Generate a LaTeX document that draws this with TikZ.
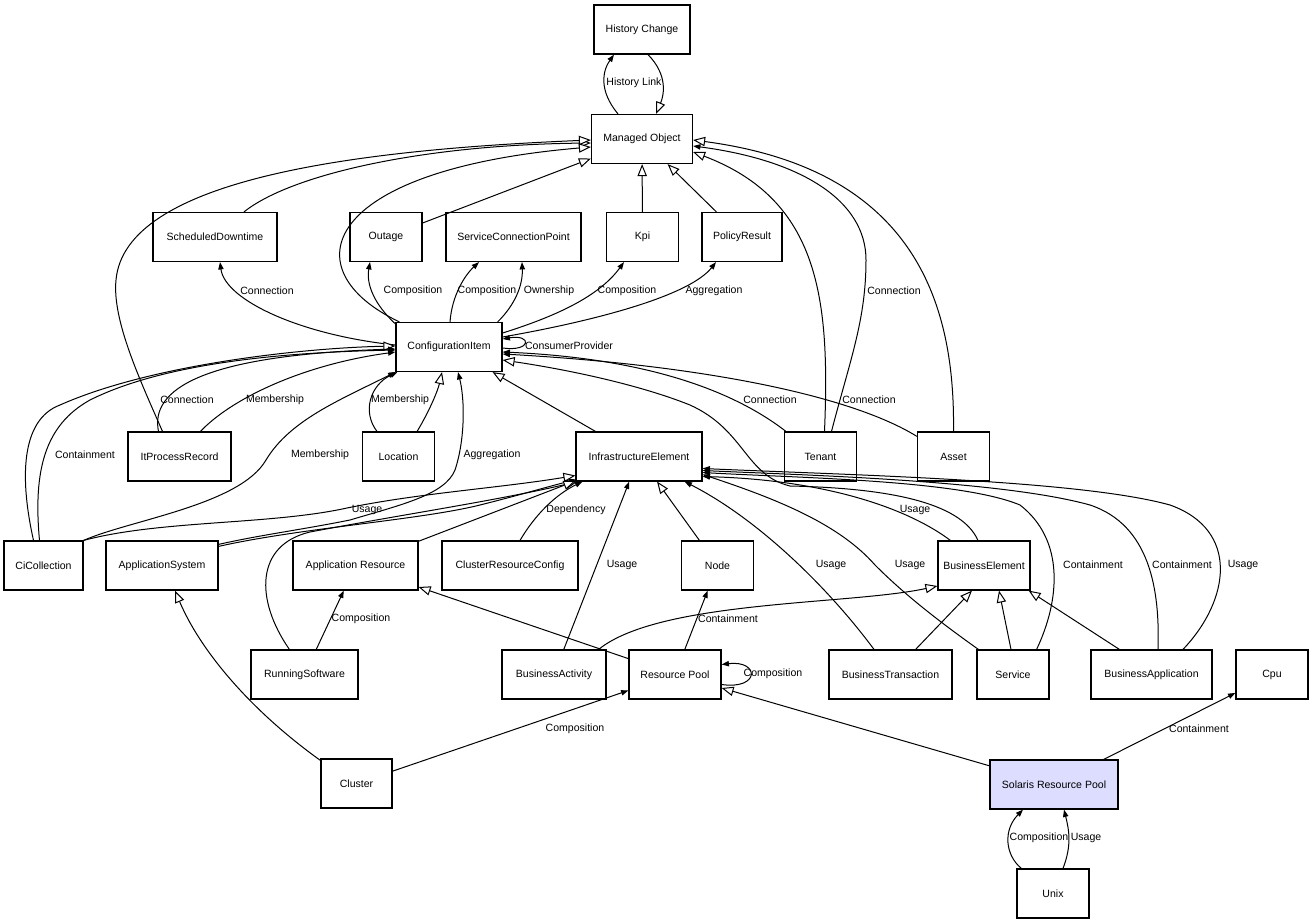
\documentclass[tikz,border=0pt]{standalone}
\usepackage{fontspec}
\setmainfont{Liberation Sans}
\usetikzlibrary{calc,arrows.meta}
\definecolor{poolblue}{RGB}{221,221,255}
\tikzset{
  cls/.style={draw, line width=0.9pt, minimum width=54pt, minimum height=36.75pt, inner sep=1pt, font=\fontsize{7.9}{9}\selectfont},
  lbl/.style={inner sep=1pt, font=\fontsize{7.9}{9}\selectfont},
  gen/.style={line width=0.75pt, -{Triangle[open,fill=white,length=9pt,width=7pt]}},
  assoc/.style={line width=0.75pt, -{Triangle[length=5.5pt,width=4pt]}}
}
\begin{document}
\begin{tikzpicture}[x=0.75pt,y=-0.75pt]
      \useasboundingbox (0,0) rectangle (1313,924);
      \node[cls, minimum width=72pt] (hc) at (642,29.5) {History Change};
      \node[cls, minimum width=75.75pt] (mo) at (642,139) {Managed Object};
      \node[cls, minimum width=93pt] (sd) at (215,237) {ScheduledDowntime};
      \node[cls] (outage) at (386,237) {Outage};
      \node[cls, minimum width=101.25pt] (scp) at (513.5,237) {ServiceConnectionPoint};
      \node[cls] (kpi) at (642.5,237) {Kpi};
      \node[cls, minimum width=60pt] (pr) at (742,237) {PolicyResult};
      \node[cls, minimum width=79.5pt] (ci) at (449,347) {ConfigurationItem};
      \node[cls, minimum width=77.25pt] (ipr) at (179.5,456.5) {ItProcessRecord};
      \node[cls] (loc) at (398.5,456.5) {Location};
      \node[cls, minimum width=94.5pt] (ie) at (639,456.5) {InfrastructureElement};
      \node[cls] (tenant) at (820.5,456.5) {Tenant};
      \node[cls] (asset) at (953.5,456.5) {Asset};
      \node[cls, minimum width=59.25pt] (cic) at (43.5,565.5) {CiCollection};
      \node[cls, minimum width=84pt] (appsys) at (162,565.5) {ApplicationSystem};
      \node[cls, minimum width=93.75pt] (appres) at (355.5,565.5) {Application Resource};
      \node[cls, minimum width=102pt] (crc) at (510,565.5) {ClusterResourceConfig};
      \node[cls] (node) at (717.5,565.5) {Node};
      \node[cls, minimum width=69pt] (be) at (984,565.5) {BusinessElement};
      \node[cls, minimum width=80.25pt] (rs) at (304.5,674.5) {RunningSoftware};
      \node[cls, minimum width=78pt] (ba) at (554,674.5) {BusinessActivity};
      \node[cls, minimum width=69pt] (rp) at (675,674.5) {Resource Pool};
      \node[cls, minimum width=92.25pt] (bt) at (890.5,674.5) {BusinessTransaction};
      \node[cls] (svc) at (1013,674.5) {Service};
      \node[cls, minimum width=90.75pt] (bapp) at (1151.5,674.5) {BusinessApplication};
      \node[cls] (cpu) at (1272,674.5) {Cpu};
      \node[cls, minimum width=53.25pt] (cluster) at (356.5,783.5) {Cluster};
      \node[cls, fill=poolblue, minimum width=96pt] (srp) at (1054,784.5) {Solaris Resource Pool};
      \node[cls] (unix) at (1053,893.5) {Unix};

      \draw[assoc] ($(mo.north)+(-24,0)$) .. controls (598,90) and (603,70) .. ($(hc.south)+(-28,0)$);
      \draw[gen] ($(hc.south)+(6,0)$) .. controls (668,75) and (664,95) .. ($(mo.north)+(14,0)$);
      \draw[gen] ($(sd.north)+(29,0)$) .. controls (290,175) and (420,145) .. ($(mo.west)+(0,4)$);
      \draw[gen] (outage) -- (mo);
      \draw[gen] (kpi) -- (mo);
      \draw[gen] (pr) -- (mo);
      \draw[gen] ($(ci.north west)+(4,0)$) .. controls (290,270) and (320,170) .. ($(mo.west)+(0,8)$);
      \draw[gen] ($(ipr.north)+(-17,0)$) .. controls (140,380) and (112,320) .. (116,280) .. controls (125,180) and (350,150) .. ($(mo.west)+(0,1)$);
      \draw[gen] ($(tenant.north)+(4,0)$) .. controls (830,300) and (820,200) .. ($(mo.east)+(0,13)$);
      \draw[assoc] ($(tenant.north)+(11,0)$) .. controls (850,360) and (866,320) .. (866,260) .. controls (866,200) and (800,160) .. ($(mo.east)+(0,7)$);
      \draw[gen] (asset.north) .. controls (955,310) and (920,170) .. ($(mo.east)+(0,1)$);

      \draw[assoc] ($(ci.west)+(0,-2)$) .. controls (300,335) and (225,300) .. ($(sd.south)+(5,0)$);
      \draw[assoc] ($(ci.north west)+(0,2)$) .. controls (375,305) and (366,285) .. ($(outage.south)+(-16,0)$);
      \draw[assoc] ($(ci.north)+(1,0)$) .. controls (452,295) and (465,275) .. ($(scp.south)+(-34.5,0)$);
      \draw[assoc] ($(ci.north east)+(-5,0)$) .. controls (515,305) and (523,285) .. ($(scp.south)+(8.5,0)$);
      \draw[assoc] ($(ci.east)+(0,-14)$) .. controls (560,315) and (600,295) .. ($(kpi.south)+(-18.5,0)$);
      \draw[assoc] ($(ci.east)+(0,-10)$) .. controls (600,320) and (690,295) .. ($(pr.south)+(-26,0)$);
      \draw[assoc] ($(ci.east)+(0,1)$) .. controls (532,352) and (532,334) .. ($(ci.east)+(0,-8)$);

      \draw[gen] ($(cic.north)+(-10,0)$) .. controls (20,480) and (20,420) .. (60,405) .. controls (150,365) and (300,348) .. ($(ci.west)+(0,-1)$);
      \draw[assoc] ($(cic.north)+(-4,0)$) .. controls (33,470) and (45,425) .. (90,400) .. controls (170,360) and (300,352) .. ($(ci.west)+(0,3)$);
      \draw[assoc] ($(ipr.north)+(-21,0)$) .. controls (150,390) and (200,355) .. ($(ci.west)+(0,2)$);
      \draw[assoc] ($(ipr.north)+(21,0)$) .. controls (230,400) and (300,365) .. ($(ci.west)+(0,5)$);
      \draw[assoc] (cic.north east) .. controls (130,520) and (240,505) .. (266,460) .. controls (290,420) and (340,400) .. (ci.south west);
      \draw[assoc] ($(loc.north)+(-21.5,0)$) .. controls (362,412) and (370,385) .. ($(ci.south west)+(2,0)$);
      \draw[gen] ($(loc.north east)+(-18,0)$) .. controls (430,410) and (438,390) .. ($(ci.south)+(-7,0)$);
      \draw[assoc] ($(appsys.north east)+(0,4)$) .. controls (260,535) and (300,530) .. (350,520) .. controls (400,505) and (445,495) .. (455,470) .. controls (465,440) and (465,400) .. ($(ci.south)+(9,0)$);
      \draw[gen] (ie) -- (ci);
      \draw[assoc] ($(tenant.north west)+(2,0)$) .. controls (730,388) and (640,358) .. ($(ci.east)+(0,5)$);
      \draw[assoc] ($(asset.north west)+(0,5)$) .. controls (850,395) and (700,365) .. ($(ci.east)+(0,7)$);
      \draw[gen] ($(be.north)+(-6,0)$) .. controls (960,500) and (880,488) .. (790,486) .. controls (745,475) and (745,430) .. (690,405) .. controls (640,385) and (570,370) .. ($(ci.east)+(0,13)$);

      \draw[gen] (cic.north east) .. controls (160,520) and (270,525) .. (347,508) .. controls (420,493) and (500,488) .. ($(ie.west)+(0,19)$);
      \draw[assoc] ($(appsys.north east)+(0,6)$) .. controls (300,528) and (420,520) .. (480,505) .. controls (520,495) and (550,486) .. ($(ie.south west)+(1,-2)$);
      \draw[gen] ($(rs.north west)+(39,0)$) .. controls (255,600) and (255,545) .. (310,532) .. controls (400,515) and (500,500) .. ($(ie.south west)+(2,0)$);
      \draw[gen] (appres) -- (ie);
      \draw[assoc] ($(crc.north)+(10,0)$) .. controls (535,515) and (555,495) .. ($(ie.south west)+(7,0)$);
      \draw[assoc] (ba) -- (ie);
      \draw[gen] (node) -- (ie);
      \draw[assoc] ($(bt.north)+(-16.5,0)$) .. controls (830,590) and (760,520) .. ($(ie.south east)+(-18,0)$);
      \draw[assoc] ($(svc.north west)+(2,0)$) .. controls (930,615) and (900,590) .. (875,565) .. controls (840,525) and (780,500) .. ($(ie.east)+(0,18)$);
      \draw[assoc] ($(svc.north east)+(-13,0)$) .. controls (1060,600) and (1065,540) .. (1020,505) .. controls (960,480) and (800,478) .. ($(ie.east)+(0,16)$);
      \draw[assoc] ($(bapp.north)+(6.5,0)$) .. controls (1160,590) and (1150,525) .. (1090,505) .. controls (1000,480) and (800,475) .. ($(ie.east)+(0,14)$);
      \draw[assoc] ($(bapp.north)+(31.5,0)$) .. controls (1230,600) and (1240,530) .. (1170,505) .. controls (1080,480) and (850,475) .. ($(ie.east)+(0,12)$);
      \draw[assoc] ($(be.north west)+(13,0)$) .. controls (910,510) and (830,480) .. ($(ie.east)+(0,20)$);

      \draw[gen] ($(ba.north east)+(-8,0)$) .. controls (660,600) and (850,605) .. ($(be.west)+(0,20.5)$);
      \draw[gen] ($(bt.north east)+(-37,0)$) -- ($(be.south)+(-12,0)$);
      \draw[gen] ($(svc.north)+(-2,0)$) -- ($(be.south)+(15,0)$);
      \draw[gen] ($(bapp.north west)+(29,0)$) -- ($(be.south east)+(-2,0)$);

      \draw[assoc] (rs) -- (appres);
      \draw[gen] (rp) -- (appres);
      \draw[assoc] (rp) -- (node);
      \draw[assoc] ($(rp.east)+(0,10)$) .. controls (760,690) and (760,660) .. ($(rp.east)+(0,-10)$);
      \draw[gen] ($(cluster.north west)+(0,2)$) .. controls (250,710) and (200,650) .. ($(appsys.south)+(13,0)$);
      \draw[assoc] (cluster) -- (rp);
      \draw[gen] (srp) -- (rp);
      \draw[assoc] (srp) -- (cpu);
      \draw[assoc] ($(unix.north west)+(5,0)$) .. controls (1005,855) and (1003,830) .. ($(srp.south)+(-31,0)$);
      \draw[assoc] ($(unix.north)+(10,0)$) .. controls (1072,845) and (1069,830) .. ($(srp.south)+(10,0)$);

      \node[lbl] (lhist) at (634,83) {History Link};
      \node[lbl] (lsd) at (267,291) {Connection};
      \node[lbl] (lout) at (413,291) {Composition};
      \node[lbl] (lscpa) at (487,291) {Composition};
      \node[lbl] (lscpb) at (549,291) {Ownership};
      \node[lbl] (lkpi) at (627,291) {Composition};
      \node[lbl] (lpr) at (714,291) {Aggregation};
      \node[lbl] (ltenmo) at (894,291) {Connection};
      \node[lbl] (lloop) at (569,346) {ConsumerProvider};
      \node[lbl] (liprc) at (187,400) {Connection};
      \node[lbl] (liprm) at (275,400) {Membership};
      \node[lbl] (lloc) at (400,400) {Membership};
      \node[lbl] (lten) at (770,400) {Connection};
      \node[lbl] (lasset) at (869,400) {Connection};
      \node[lbl] (lcicc) at (85,455) {Containment};
      \node[lbl] (lcicm) at (320,455) {Membership};
      \node[lbl] (lagg) at (492,455) {Aggregation};
      \node[lbl] (lappu) at (367,510) {Usage};
      \node[lbl] (ldep) at (576,510) {Dependency};
      \node[lbl] (lbeu) at (915,510) {Usage};
      \node[lbl] (lbau) at (622,565) {Usage};
      \node[lbl] (lbtu) at (831,565) {Usage};
      \node[lbl] (lsvcu) at (910,565) {Usage};
      \node[lbl] (lsvcc) at (1093,565) {Containment};
      \node[lbl] (lbappc) at (1182,565) {Containment};
      \node[lbl] (lbappu) at (1243,565) {Usage};
      \node[lbl] (lrs) at (361,619) {Composition};
      \node[lbl] (lnode) at (728,619) {Containment};
      \node[lbl] (lrp) at (773,674) {Composition};
      \node[lbl] (lcl) at (575,729) {Composition};
      \node[lbl] (lcpu) at (1199,729) {Containment};
      \node[lbl] (lunixc) at (1039,838) {Composition};
      \node[lbl] (lunixu) at (1086,838) {Usage};
    \end{tikzpicture}
\end{document}
